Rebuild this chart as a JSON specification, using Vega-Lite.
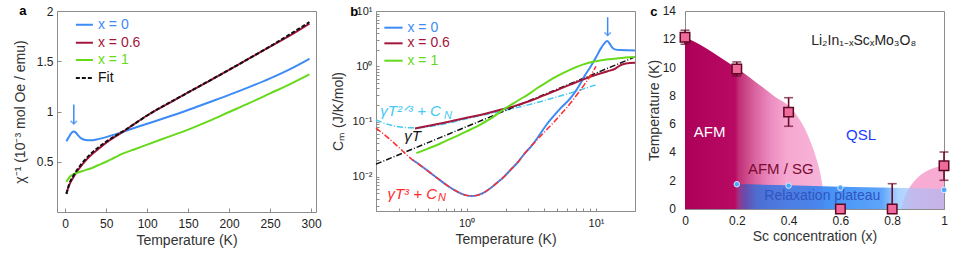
{
 "$schema": "https://vega.github.io/schema/vega-lite/v6.json",
 "padding": {"left": 12, "top": 4, "right": 0, "bottom": 0},
 "background": "white",
 "config": {
  "font": "Liberation Sans",
  "view": {"stroke": "#8c8c8c", "strokeWidth": 1},
  "axis": {"grid": false, "domain": false, "tickColor": "#8c8c8c", "tickSize": -4, "labelFontSize": 12, "labelColor": "#222", "titleFontSize": 14, "titleFontWeight": "normal", "titleColor": "#333", "labelFlush": false},
  "text": {"font": "Liberation Sans"}
 },
 "datasets": {
  "acurves": [
   {"s":"x = 0","T":1.5,"v":0.705},{"s":"x = 0","T":4,"v":0.74},{"s":"x = 0","T":7,"v":0.78},{"s":"x = 0","T":10,"v":0.8},{"s":"x = 0","T":13,"v":0.79},{"s":"x = 0","T":16,"v":0.76},{"s":"x = 0","T":20,"v":0.73},{"s":"x = 0","T":25,"v":0.716},{"s":"x = 0","T":30,"v":0.713},{"s":"x = 0","T":40,"v":0.725},{"s":"x = 0","T":50,"v":0.745},{"s":"x = 0","T":60,"v":0.77},{"s":"x = 0","T":70,"v":0.797},{"s":"x = 0","T":85,"v":0.838},{"s":"x = 0","T":100,"v":0.878},{"s":"x = 0","T":125,"v":0.945},{"s":"x = 0","T":150,"v":1.015},{"s":"x = 0","T":175,"v":1.09},{"s":"x = 0","T":200,"v":1.165},{"s":"x = 0","T":225,"v":1.245},{"s":"x = 0","T":250,"v":1.33},{"s":"x = 0","T":275,"v":1.425},{"s":"x = 0","T":298,"v":1.525},
   {"s":"x = 0.6","T":1.5,"v":0.185},{"s":"x = 0.6","T":5,"v":0.27},{"s":"x = 0.6","T":10,"v":0.345},{"s":"x = 0.6","T":15,"v":0.41},{"s":"x = 0.6","T":20,"v":0.465},{"s":"x = 0.6","T":30,"v":0.555},{"s":"x = 0.6","T":40,"v":0.625},{"s":"x = 0.6","T":50,"v":0.69},{"s":"x = 0.6","T":60,"v":0.745},{"s":"x = 0.6","T":70,"v":0.795},{"s":"x = 0.6","T":85,"v":0.88},{"s":"x = 0.6","T":100,"v":0.96},{"s":"x = 0.6","T":125,"v":1.075},{"s":"x = 0.6","T":150,"v":1.19},{"s":"x = 0.6","T":175,"v":1.3},{"s":"x = 0.6","T":200,"v":1.415},{"s":"x = 0.6","T":225,"v":1.53},{"s":"x = 0.6","T":250,"v":1.645},{"s":"x = 0.6","T":275,"v":1.76},{"s":"x = 0.6","T":298,"v":1.875},
   {"s":"x = 1","T":1.5,"v":0.3},{"s":"x = 1","T":4,"v":0.335},{"s":"x = 1","T":7,"v":0.36},{"s":"x = 1","T":10,"v":0.375},{"s":"x = 1","T":15,"v":0.39},{"s":"x = 1","T":20,"v":0.405},{"s":"x = 1","T":30,"v":0.43},{"s":"x = 1","T":40,"v":0.465},{"s":"x = 1","T":50,"v":0.5},{"s":"x = 1","T":60,"v":0.54},{"s":"x = 1","T":70,"v":0.58},{"s":"x = 1","T":85,"v":0.625},{"s":"x = 1","T":100,"v":0.67},{"s":"x = 1","T":125,"v":0.745},{"s":"x = 1","T":150,"v":0.82},{"s":"x = 1","T":175,"v":0.905},{"s":"x = 1","T":200,"v":0.995},{"s":"x = 1","T":225,"v":1.085},{"s":"x = 1","T":250,"v":1.18},{"s":"x = 1","T":275,"v":1.275},{"s":"x = 1","T":298,"v":1.37}
  ],
  "afit": [
   {"T":1.5,"v":0.18},{"T":5,"v":0.28},{"T":10,"v":0.36},{"T":15,"v":0.425},{"T":20,"v":0.48},{"T":30,"v":0.57},{"T":40,"v":0.64},{"T":50,"v":0.7},{"T":60,"v":0.752},{"T":70,"v":0.8},{"T":85,"v":0.88},{"T":100,"v":0.96},{"T":150,"v":1.19},{"T":200,"v":1.415},{"T":250,"v":1.648},{"T":298,"v":1.89}
  ],
  "alegend": [
   {"s":"x = 0","T":13,"T2":33.8,"Tt":40,"v":1.863},
   {"s":"x = 0.6","T":13,"T2":33.8,"Tt":40,"v":1.683},
   {"s":"x = 1","T":13,"T2":33.8,"Tt":40,"v":1.513},
   {"s":"Fit","T":13,"T2":33.8,"Tt":40,"v":1.333}
  ],
  "bcurves": [
   {"s":"x = 0","T":0.38,"C":0.0205},{"s":"x = 0","T":0.45,"C":0.0155},{"s":"x = 0","T":0.52,"C":0.012},{"s":"x = 0","T":0.6,"C":0.0093},{"s":"x = 0","T":0.7,"C":0.0071},{"s":"x = 0","T":0.8,"C":0.0058},{"s":"x = 0","T":0.9,"C":0.005},{"s":"x = 0","T":1.0,"C":0.0046},{"s":"x = 0","T":1.1,"C":0.0045},{"s":"x = 0","T":1.2,"C":0.0046},{"s":"x = 0","T":1.35,"C":0.0051},{"s":"x = 0","T":1.5,"C":0.006},{"s":"x = 0","T":1.7,"C":0.0076},{"s":"x = 0","T":1.93,"C":0.0098},{"s":"x = 0","T":2.2,"C":0.0135},{"s":"x = 0","T":2.5,"C":0.0185},{"s":"x = 0","T":2.76,"C":0.025},{"s":"x = 0","T":3.2,"C":0.037},{"s":"x = 0","T":3.6,"C":0.054},{"s":"x = 0","T":4.08,"C":0.083},{"s":"x = 0","T":4.7,"C":0.125},{"s":"x = 0","T":5.4,"C":0.18},{"s":"x = 0","T":6.4,"C":0.27},{"s":"x = 0","T":7.3,"C":0.42},{"s":"x = 0","T":8.2,"C":0.68},{"s":"x = 0","T":9.15,"C":1.01},{"s":"x = 0","T":10,"C":1.45},{"s":"x = 0","T":10.96,"C":2.15},{"s":"x = 0","T":11.6,"C":2.6},{"s":"x = 0","T":12.2,"C":2.86},{"s":"x = 0","T":12.7,"C":2.6},{"s":"x = 0","T":13.3,"C":2.2},{"s":"x = 0","T":14,"C":2.02},{"s":"x = 0","T":15.5,"C":1.96},{"s":"x = 0","T":17.5,"C":1.94},{"s":"x = 0","T":20,"C":1.93},
   {"s":"x = 0.6","T":0.4,"C":0.075},{"s":"x = 0.6","T":0.5,"C":0.083},{"s":"x = 0.6","T":0.6,"C":0.09},{"s":"x = 0.6","T":0.7,"C":0.097},{"s":"x = 0.6","T":0.8,"C":0.104},{"s":"x = 0.6","T":1.0,"C":0.117},{"s":"x = 0.6","T":1.3,"C":0.133},{"s":"x = 0.6","T":1.6,"C":0.15},{"s":"x = 0.6","T":1.93,"C":0.168},{"s":"x = 0.6","T":2.5,"C":0.2},{"s":"x = 0.6","T":3,"C":0.23},{"s":"x = 0.6","T":4,"C":0.3},{"s":"x = 0.6","T":5,"C":0.37},{"s":"x = 0.6","T":6.4,"C":0.47},{"s":"x = 0.6","T":8,"C":0.58},{"s":"x = 0.6","T":10,"C":0.7},{"s":"x = 0.6","T":12.3,"C":0.81},{"s":"x = 0.6","T":14,"C":0.9},{"s":"x = 0.6","T":15.5,"C":1.05},{"s":"x = 0.6","T":17,"C":1.12},{"s":"x = 0.6","T":20,"C":1.16},
   {"s":"x = 1","T":0.41,"C":0.0267},{"s":"x = 1","T":0.5,"C":0.032},{"s":"x = 1","T":0.6,"C":0.038},{"s":"x = 1","T":0.7,"C":0.045},{"s":"x = 1","T":0.85,"C":0.055},{"s":"x = 1","T":1.0,"C":0.066},{"s":"x = 1","T":1.3,"C":0.09},{"s":"x = 1","T":1.6,"C":0.12},{"s":"x = 1","T":1.93,"C":0.165},{"s":"x = 1","T":2.5,"C":0.24},{"s":"x = 1","T":3,"C":0.31},{"s":"x = 1","T":3.5,"C":0.4},{"s":"x = 1","T":4.2,"C":0.52},{"s":"x = 1","T":5,"C":0.66},{"s":"x = 1","T":6.4,"C":0.88},{"s":"x = 1","T":8,"C":1.08},{"s":"x = 1","T":9.7,"C":1.22},{"s":"x = 1","T":12,"C":1.32},{"s":"x = 1","T":15,"C":1.4},{"s":"x = 1","T":20,"C":1.47}
  ],
  "bT3": [
   {"T":0.2,"C":0.076},{"T":0.25,"C":0.05},{"T":0.3,"C":0.034},{"T":0.38,"C":0.0205},{"T":0.45,"C":0.0155},{"T":0.52,"C":0.012},{"T":0.6,"C":0.0093},{"T":0.7,"C":0.0071},{"T":0.8,"C":0.0058},{"T":0.9,"C":0.005},{"T":1.0,"C":0.0046},{"T":1.1,"C":0.0045},{"T":1.2,"C":0.0046},{"T":1.35,"C":0.0051},{"T":1.5,"C":0.006},{"T":1.7,"C":0.0076},{"T":1.93,"C":0.0098},{"T":2.2,"C":0.0135},{"T":2.5,"C":0.0185},{"T":2.76,"C":0.025},{"T":3.2,"C":0.037},{"T":3.6,"C":0.05},{"T":4.08,"C":0.068},{"T":4.74,"C":0.098},{"T":5.5,"C":0.145},{"T":6.4,"C":0.22},{"T":7.3,"C":0.33},{"T":8.2,"C":0.48},{"T":9.1,"C":0.68},{"T":10,"C":1.0}
  ],
  "bT": [{"T":0.2,"C":0.0169},{"T":19.4,"C":1.43}],
  "bT23": [
   {"T":0.2,"C":0.107},{"T":0.25,"C":0.088},{"T":0.3,"C":0.08},{"T":0.38,"C":0.077},{"T":0.5,"C":0.08},{"T":0.7,"C":0.092},{"T":1.0,"C":0.112},{"T":1.5,"C":0.138},{"T":2.0,"C":0.16},{"T":3.0,"C":0.2},{"T":4.0,"C":0.24},{"T":5.0,"C":0.28},{"T":6.4,"C":0.33},{"T":8,"C":0.39},{"T":10,"C":0.46}
  ],
  "blegend": [
   {"s":"x = 0","T":0.232,"T2":0.321,"Tt":0.35,"C":4.99},
   {"s":"x = 0.6","T":0.232,"T2":0.321,"Tt":0.35,"C":2.6},
   {"s":"x = 1","T":0.232,"T2":0.321,"Tt":0.35,"C":1.26}
  ],
  "domeL": [
   {"x":0,"y":12.15},{"x":0.05,"y":11.7},{"x":0.1,"y":11.15},{"x":0.15,"y":10.55},{"x":0.2,"y":9.95},{"x":0.25,"y":9.3},{"x":0.3,"y":8.6},{"x":0.35,"y":7.9},{"x":0.4,"y":7.3},{"x":0.44,"y":6.4},{"x":0.47,"y":5.4},{"x":0.49,"y":4.5},{"x":0.51,"y":3.4},{"x":0.52,"y":2.7},{"x":0.53,"y":1.7},{"x":0.535,"y":0.9},{"x":0.538,"y":0}
  ],
  "domeR": [
   {"x":0.835,"y":0},{"x":0.845,"y":0.7},{"x":0.86,"y":1.3},{"x":0.88,"y":1.85},{"x":0.9,"y":2.25},{"x":0.93,"y":2.65},{"x":0.96,"y":2.9},{"x":1.0,"y":3.1}
  ],
  "band": [
   {"x":0.2,"y":1.76},{"x":0.4,"y":1.68},{"x":0.6,"y":1.58},{"x":0.8,"y":1.5},{"x":1.0,"y":1.42}
  ],
  "cerr": [
   {"x":0,"lo":11.65,"hi":12.64},{"x":0.2,"lo":9.4,"hi":10.4},{"x":0.4,"lo":5.85,"hi":7.87},{"x":0.8,"lo":0,"hi":1.79},{"x":1.0,"lo":2.03,"hi":4.03}
  ],
  "cpts": [
   {"x":0,"y":12.15},{"x":0.2,"y":9.9},{"x":0.4,"y":6.85},{"x":0.6,"y":0},{"x":0.8,"y":0},{"x":1.0,"y":3.05}
  ],
  "ccirc": [
   {"x":0.2,"y":1.75},{"x":0.4,"y":1.65},{"x":0.6,"y":1.5},{"x":1.0,"y":1.35}
  ],
  "cylabels": [
   {"y":0,"t":"0"},{"y":2,"t":"2"},{"y":4,"t":"4"},{"y":6,"t":"6"},{"y":8,"t":"8"},{"y":10,"t":"10"},{"y":12,"t":"12"},{"y":14,"t":"14"}
  ]
 },
 "spacing": 60,
 "bounds": "flush",
 "hconcat": [
  {
   "width": 259, "height": 201,
   "layer": [
    {
     "data": {"name": "acurves"},
     "mark": {"type": "line", "strokeWidth": 2, "interpolate": "monotone"},
     "encoding": {
      "x": {"field": "T", "type": "quantitative", "scale": {"domain": [-10, 306], "nice": false, "zero": false},
            "axis": {"values": [0,50,100,150,200,250,300], "title": "Temperature (K)", "labelPadding": 10, "titlePadding": 4, "labelOverlap": false}},
      "y": {"field": "v", "type": "quantitative", "scale": {"domain": [0, 2], "nice": false},
            "axis": {"values": [0.5,1,1.5,2], "format": "~g", "title": "χ⁻¹ (10⁻³ mol Oe / emu)", "labelPadding": 8, "titlePadding": 9, "labelOverlap": false}},
      "color": {"field": "s", "type": "nominal", "scale": {"domain": ["x = 0","x = 0.6","x = 1","Fit"], "range": ["#3d8bf5","#a3173c","#66d91a","#111111"]}, "legend": null}
     }
    },
    {
     "data": {"name": "afit"},
     "mark": {"type": "line", "strokeWidth": 2, "strokeDash": [4,2], "color": "#111111", "interpolate": "monotone"},
     "encoding": {"x": {"field": "T", "type": "quantitative"}, "y": {"field": "v", "type": "quantitative"}}
    },
    {
     "data": {"name": "alegend"},
     "mark": {"type": "rule", "strokeWidth": 2},
     "encoding": {
      "x": {"field": "T", "type": "quantitative"}, "x2": {"field": "T2"},
      "y": {"field": "v", "type": "quantitative"},
      "color": {"field": "s", "type": "nominal", "legend": null},
      "strokeDash": {"field": "s", "type": "nominal", "scale": {"domain": ["x = 0","x = 0.6","x = 1","Fit"], "range": [[1,0],[1,0],[1,0],[4,2]]}, "legend": null}
     }
    },
    {
     "data": {"name": "alegend"},
     "mark": {"type": "text", "align": "left", "baseline": "middle", "fontSize": 14},
     "encoding": {
      "x": {"field": "Tt", "type": "quantitative"},
      "y": {"field": "v", "type": "quantitative"},
      "text": {"field": "s"},
      "color": {"field": "s", "type": "nominal", "legend": null}
     }
    },
    {
     "data": {"values": [{"T": 10.5, "v": 1.07, "v2": 0.875}]},
     "mark": {"type": "rule", "color": "#3d8bf5", "strokeWidth": 1.5},
     "encoding": {"x": {"field": "T", "type": "quantitative"}, "y": {"field": "v", "type": "quantitative"}, "y2": {"field": "v2"}}
    },
    {
     "data": {"values": [{"T": 10.5, "v": 0.875}]},
     "mark": {"type": "point", "shape": "M-1,-1L0,0L1,-1", "filled": false, "color": "#3d8bf5", "strokeWidth": 1.5, "size": 40},
     "encoding": {"x": {"field": "T", "type": "quantitative"}, "y": {"field": "v", "type": "quantitative"}}
    },
    {
     "data": {"values": [{"T": -51.6, "v": 2.0, "t": "a"}]},
     "mark": {"type": "text", "fontWeight": "bold", "fontSize": 13, "color": "#000"},
     "encoding": {"x": {"field": "T", "type": "quantitative"}, "y": {"field": "v", "type": "quantitative"}, "text": {"field": "t"}}
    }
   ]
  },
  {
   "spacing": 50,
   "bounds": "flush",
   "hconcat": [
    {
     "width": 259, "height": 200,
     "layer": [
      {
       "data": {"name": "bT23"},
       "mark": {"type": "line", "strokeWidth": 1.5, "strokeDash": [6,2,1,2], "color": "#45c8f2", "interpolate": "monotone"},
       "encoding": {
        "x": {"field": "T", "type": "quantitative", "scale": {"type": "log", "domain": [0.2, 20], "nice": false},
              "axis": {"values": [0.2,0.3,0.4,0.5,0.6,0.7,0.8,0.9,1,2,3,4,5,6,7,8,9,10,20], "tickSize": -3, "title": "Temperature (K)", "labelPadding": 9, "titlePadding": 4, "labelFontSize": 11, "labelOverlap": false,
                       "labelExpr": "datum.value == 1 ? '10⁰' : datum.value == 10 ? '10¹' : ''"}},
        "y": {"field": "C", "type": "quantitative", "scale": {"type": "log", "domain": [0.0024, 10], "nice": false},
              "axis": {"values": [0.003,0.004,0.005,0.006,0.007,0.008,0.009,0.01,0.02,0.03,0.04,0.05,0.06,0.07,0.08,0.09,0.1,0.2,0.3,0.4,0.5,0.6,0.7,0.8,0.9,1,2,3,4,5,6,7,8,9,10], "tickSize": -3, "title": "Cₘ (J/K/mol)", "labelPadding": 7, "titlePadding": 7, "labelFontSize": 11, "labelOverlap": false,
                       "labelExpr": "datum.value == 0.01 ? '10⁻²' : datum.value == 0.1 ? '10⁻¹' : datum.value == 1 ? '10⁰' : datum.value == 10 ? '10¹' : ''"}}
       }
      },
      {
       "data": {"name": "bT"},
       "mark": {"type": "line", "strokeWidth": 1.5, "strokeDash": [6,2,1,2], "color": "#111111"},
       "encoding": {"x": {"field": "T", "type": "quantitative"}, "y": {"field": "C", "type": "quantitative"}}
      },
      {
       "data": {"name": "bcurves"},
       "mark": {"type": "line", "strokeWidth": 2, "interpolate": "monotone"},
       "encoding": {
        "x": {"field": "T", "type": "quantitative"}, "y": {"field": "C", "type": "quantitative"},
        "color": {"field": "s", "type": "nominal", "scale": {"domain": ["x = 0","x = 0.6","x = 1"], "range": ["#3d8bf5","#8f1430","#66d91a"]}, "legend": null}
       }
      },
      {
       "data": {"name": "bT3"},
       "mark": {"type": "line", "strokeWidth": 1.5, "strokeDash": [6,2,1,2], "color": "#ff2a2a", "interpolate": "monotone"},
       "encoding": {"x": {"field": "T", "type": "quantitative"}, "y": {"field": "C", "type": "quantitative"}}
      },
      {
       "data": {"name": "blegend"},
       "mark": {"type": "rule", "strokeWidth": 2},
       "encoding": {
        "x": {"field": "T", "type": "quantitative"}, "x2": {"field": "T2"},
        "y": {"field": "C", "type": "quantitative"},
        "color": {"field": "s", "type": "nominal", "legend": null}
       }
      },
      {
       "data": {"name": "blegend"},
       "mark": {"type": "text", "align": "left", "baseline": "middle", "fontSize": 14},
       "encoding": {
        "x": {"field": "Tt", "type": "quantitative"},
        "y": {"field": "C", "type": "quantitative"},
        "text": {"field": "s"},
        "color": {"field": "s", "type": "nominal", "legend": null}
       }
      },
      {
       "data": {"values": [{"T": 0.216, "C": 0.125, "t": "γT²ᐟ³ + C"}]},
       "mark": {"type": "text", "align": "left", "baseline": "alphabetic", "fontSize": 15, "fontStyle": "italic", "color": "#45c8f2"},
       "encoding": {"x": {"field": "T", "type": "quantitative"}, "y": {"field": "C", "type": "quantitative"}, "text": {"field": "t"}}
      },
      {
       "data": {"values": [{"T": 0.67, "C": 0.11, "t": "N"}]},
       "mark": {"type": "text", "align": "left", "baseline": "alphabetic", "fontSize": 11, "fontStyle": "italic", "color": "#45c8f2"},
       "encoding": {"x": {"field": "T", "type": "quantitative"}, "y": {"field": "C", "type": "quantitative"}, "text": {"field": "t"}}
      },
      {
       "data": {"values": [{"T": 0.331, "C": 0.0435, "t": "γT"}]},
       "mark": {"type": "text", "align": "left", "baseline": "alphabetic", "fontSize": 15, "fontStyle": "italic", "color": "#111111"},
       "encoding": {"x": {"field": "T", "type": "quantitative"}, "y": {"field": "C", "type": "quantitative"}, "text": {"field": "t"}}
      },
      {
       "data": {"values": [{"T": 0.245, "C": 0.00394, "t": "γT³ + C"}]},
       "mark": {"type": "text", "align": "left", "baseline": "alphabetic", "fontSize": 15, "fontStyle": "italic", "color": "#ff2a2a"},
       "encoding": {"x": {"field": "T", "type": "quantitative"}, "y": {"field": "C", "type": "quantitative"}, "text": {"field": "t"}}
      },
      {
       "data": {"values": [{"T": 0.602, "C": 0.00357, "t": "N"}]},
       "mark": {"type": "text", "align": "left", "baseline": "alphabetic", "fontSize": 11, "fontStyle": "italic", "color": "#ff2a2a"},
       "encoding": {"x": {"field": "T", "type": "quantitative"}, "y": {"field": "C", "type": "quantitative"}, "text": {"field": "t"}}
      },
      {
       "data": {"values": [{"T": 12.3, "C": 7.7, "C2": 3.6}]},
       "mark": {"type": "rule", "color": "#3d8bf5", "strokeWidth": 1.5},
       "encoding": {"x": {"field": "T", "type": "quantitative"}, "y": {"field": "C", "type": "quantitative"}, "y2": {"field": "C2"}}
      },
      {
       "data": {"values": [{"T": 12.3, "C": 3.6}]},
       "mark": {"type": "point", "shape": "M-1,-1L0,0L1,-1", "filled": false, "color": "#3d8bf5", "strokeWidth": 1.5, "size": 40},
       "encoding": {"x": {"field": "T", "type": "quantitative"}, "y": {"field": "C", "type": "quantitative"}}
      },
      {
       "data": {"values": [{"T": 0.136, "C": 9.6, "t": "b"}]},
       "mark": {"type": "text", "fontWeight": "bold", "fontSize": 13, "color": "#000"},
       "encoding": {"x": {"field": "T", "type": "quantitative"}, "y": {"field": "C", "type": "quantitative"}, "text": {"field": "t"}}
      }
     ]
    },
    {
     "width": 259, "height": 198,
     "layer": [
      {
       "data": {"name": "domeL"},
       "mark": {"type": "area", "interpolate": "monotone",
                "fill": {"gradient": "linear", "x1": 0, "y1": 0, "x2": 1, "y2": 0,
                         "stops": [{"offset": 0, "color": "#ad0058"}, {"offset": 0.36, "color": "#b80a62"}, {"offset": 0.385, "color": "#c02e76"}, {"offset": 0.5, "color": "#d9649f"}, {"offset": 0.62, "color": "#ec8ec1"}, {"offset": 0.73, "color": "#f5a8d0"}, {"offset": 1, "color": "#f8b4d9"}]}},
       "encoding": {
        "x": {"field": "x", "type": "quantitative", "scale": {"domain": [0, 1], "nice": false},
              "axis": {"values": [0,0.2,0.4,0.6,0.8,1], "format": "~g", "title": "Sc concentration (x)", "labelPadding": 10, "titlePadding": 3, "labelOverlap": false}},
        "y": {"field": "y", "type": "quantitative", "scale": {"domain": [0, 14], "nice": false},
              "axis": {"values": [0,2,4,6,8,10,12,14], "labels": false, "title": "Temperature (K)", "titlePadding": 23}}
       }
      },
      {
       "data": {"name": "domeR"},
       "mark": {"type": "area", "interpolate": "monotone", "fill": "#f7acd4"},
       "encoding": {"x": {"field": "x", "type": "quantitative"}, "y": {"field": "y", "type": "quantitative"}}
      },
      {
       "data": {"name": "band"},
       "mark": {"type": "area", "interpolate": "monotone",
                "fill": {"gradient": "linear", "x1": 0, "y1": 0, "x2": 1, "y2": 0,
                         "stops": [{"offset": 0, "color": "rgba(80,60,170,0.25)"}, {"offset": 0.04, "color": "rgba(60,80,190,0.7)"}, {"offset": 0.1, "color": "rgba(45,110,220,0.82)"}, {"offset": 0.35, "color": "rgba(45,122,235,0.85)"}, {"offset": 0.45, "color": "rgba(60,140,245,0.95)"}, {"offset": 0.7, "color": "rgba(85,160,250,0.95)"}, {"offset": 0.78, "color": "rgba(160,205,255,0.88)"}, {"offset": 0.85, "color": "rgba(160,195,252,0.6)"}, {"offset": 1, "color": "rgba(150,185,250,0.5)"}]}},
       "encoding": {"x": {"field": "x", "type": "quantitative"}, "y": {"field": "y", "type": "quantitative"}}
      },
      {
       "data": {"name": "cerr"},
       "mark": {"type": "rule", "color": "#6e0b2b", "strokeWidth": 1.6},
       "encoding": {"x": {"field": "x", "type": "quantitative"}, "y": {"field": "lo", "type": "quantitative"}, "y2": {"field": "hi"}}
      },
      {
       "data": {"name": "cerr"},
       "mark": {"type": "tick", "orient": "horizontal", "color": "#6e0b2b", "size": 9, "thickness": 1.6},
       "encoding": {"x": {"field": "x", "type": "quantitative"}, "y": {"field": "lo", "type": "quantitative"}}
      },
      {
       "data": {"name": "cerr"},
       "mark": {"type": "tick", "orient": "horizontal", "color": "#6e0b2b", "size": 9, "thickness": 1.6},
       "encoding": {"x": {"field": "x", "type": "quantitative"}, "y": {"field": "hi", "type": "quantitative"}}
      },
      {
       "data": {"name": "cpts"},
       "mark": {"type": "point", "shape": "square", "filled": true, "fill": "#f06b9c", "stroke": "#5c0823", "strokeWidth": 1.5, "size": 90, "opacity": 1},
       "encoding": {"x": {"field": "x", "type": "quantitative"}, "y": {"field": "y", "type": "quantitative"}}
      },
      {
       "data": {"name": "ccirc"},
       "mark": {"type": "point", "shape": "circle", "filled": true, "fill": "#4aa6ff", "stroke": "#d8ecff", "strokeWidth": 1, "size": 30, "opacity": 1},
       "encoding": {"x": {"field": "x", "type": "quantitative"}, "y": {"field": "y", "type": "quantitative"}}
      },
      {
       "data": {"name": "cylabels"},
       "mark": {"type": "text", "align": "right", "baseline": "middle", "fontSize": 12, "color": "#222222", "dx": -9},
       "encoding": {"x": {"datum": 0, "type": "quantitative"}, "y": {"field": "y", "type": "quantitative"}, "text": {"field": "t"}}
      },
      {
       "data": {"values": [{"x": 0.095, "y": 5.45, "t": "AFM"}]},
       "mark": {"type": "text", "fontSize": 15, "color": "#ffffff"},
       "encoding": {"x": {"field": "x", "type": "quantitative"}, "y": {"field": "y", "type": "quantitative"}, "text": {"field": "t"}}
      },
      {
       "data": {"values": [{"x": 0.37, "y": 2.8, "t": "AFM / SG"}]},
       "mark": {"type": "text", "fontSize": 15, "color": "#7a0a30"},
       "encoding": {"x": {"field": "x", "type": "quantitative"}, "y": {"field": "y", "type": "quantitative"}, "text": {"field": "t"}}
      },
      {
       "data": {"values": [{"x": 0.68, "y": 5.2, "t": "QSL"}]},
       "mark": {"type": "text", "fontSize": 15, "color": "#1a3cff"},
       "encoding": {"x": {"field": "x", "type": "quantitative"}, "y": {"field": "y", "type": "quantitative"}, "text": {"field": "t"}}
      },
      {
       "data": {"values": [{"x": 0.53, "y": 0.95, "t": "Relaxation plateau"}]},
       "mark": {"type": "text", "fontSize": 14, "color": "#2f55c0"},
       "encoding": {"x": {"field": "x", "type": "quantitative"}, "y": {"field": "y", "type": "quantitative"}, "text": {"field": "t"}}
      },
      {
       "data": {"values": [{"x": 0.69, "y": 11.9, "t": "Li₂In₁₋ₓScₓMo₃O₈"}]},
       "mark": {"type": "text", "fontSize": 14, "color": "#222222"},
       "encoding": {"x": {"field": "x", "type": "quantitative"}, "y": {"field": "y", "type": "quantitative"}, "text": {"field": "t"}}
      },
      {
       "data": {"values": [{"x": -0.12, "y": 13.95, "t": "c"}]},
       "mark": {"type": "text", "fontWeight": "bold", "fontSize": 13, "color": "#000"},
       "encoding": {"x": {"field": "x", "type": "quantitative"}, "y": {"field": "y", "type": "quantitative"}, "text": {"field": "t"}}
      }
     ]
    }
   ]
  }
 ]
}
